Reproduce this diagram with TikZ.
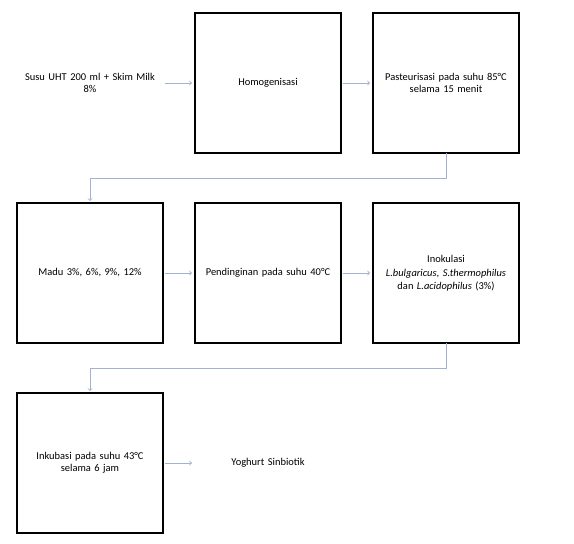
\documentclass[tikz,border=0pt]{standalone}
\usepackage{fontspec}
\setmainfont{Carlito}
\usepackage{tikz}
\usetikzlibrary{arrows,positioning}

\begin{document}
\begin{tikzpicture}[
    x=1bp, y=1bp,
    node distance=50bp and 32bp,
    font=\fontsize{10.5}{12.5}\selectfont,
    box/.style={rectangle, draw, line width=1.8bp, minimum width=146bp, minimum height=140bp, text width=132bp, align=center, outer sep=0pt},
    plain/.style={rectangle, minimum width=146bp, minimum height=140bp, text width=132bp, align=center, outer sep=0pt},
    arrow/.style={->,>=to, draw={rgb,255:red,160;green,180;blue,210}, line width=0.9bp, shorten <=2bp, shorten >=3bp},
    elbow/.style={->,>=to, draw={rgb,255:red,160;green,180;blue,210}, line width=0.9bp, shorten >=2bp}
]
    \useasboundingbox (0,0) rectangle (574,-544);

    % First row
    \node[plain] (susu) at (90,-83) {Susu UHT 200 ml + Skim Milk\\8\%};
    \node[box, right=of susu] (homo) {Homogenisasi};
    \node[box, right=of homo] (pas) {Pasteurisasi pada suhu 85°C\\selama 15 menit};

    % Second row
    \node[box, below=of susu] (madu) {Madu 3\%, 6\%, 9\%, 12\%};
    \node[box, right=of madu] (dingin) {Pendinginan pada suhu 40°C};
    \node[box, right=of dingin] (inok) {Inokulasi\\[2bp] \textit{L.bulgaricus}, \textit{S.thermophilus}\\dan \textit{L.acidophilus} (3\%)};

    % Third row
    \node[box, below=of madu] (inkub) {Inkubasi pada suhu 43°C\\selama 6 jam};
    \node[plain, right=of inkub] (yog) {Yoghurt Sinbiotik};

    % Arrows
    \draw[arrow] (susu) -- (homo);
    \draw[arrow] (homo) -- (pas);
    \draw[elbow] (pas.south) -- ++(0,-25) -| (madu.north);
    \draw[arrow] (madu) -- (dingin);
    \draw[arrow] (dingin) -- (inok);
    \draw[elbow] (inok.south) -- ++(0,-25) -| (inkub.north);
    \draw[arrow] (inkub) -- (yog);

\end{tikzpicture}
\end{document}
